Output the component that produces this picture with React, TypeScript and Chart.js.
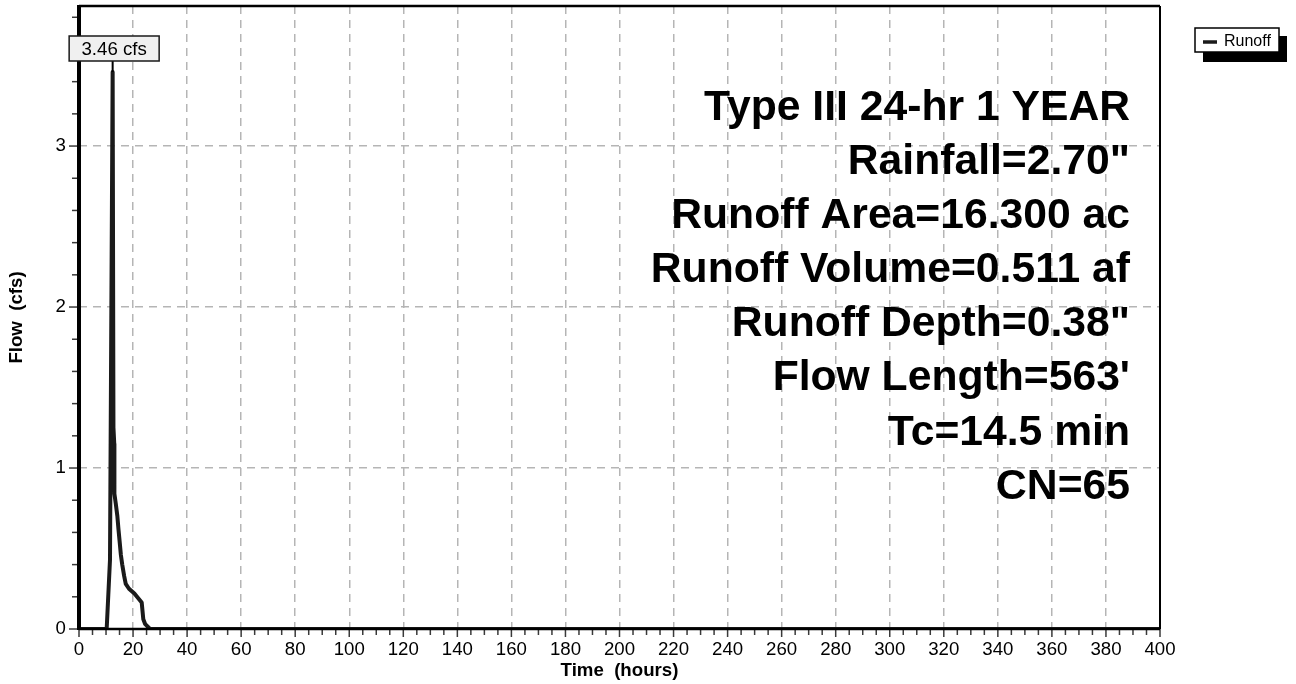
import React, { useEffect, useRef } from 'react';
import { Chart, registerables } from 'chart.js';

Chart.register(...registerables);

// ---- data ----
const timeHours = [0, 10.24, 11.47, 12.45, 12.75, 13.05, 13.1, 13.6, 14.2, 14.6, 15.0, 15.5, 16.0, 16.7, 17.3, 18.5, 20.5, 23.2, 23.8, 24.5, 26.3, 400];
const flowCfs = [0, 0, 0.43, 3.46, 1.25, 1.15, 0.84, 0.78, 0.7, 0.62, 0.55, 0.46, 0.4, 0.33, 0.28, 0.25, 0.22, 0.165, 0.06, 0.03, 0, 0];
const seriesName = 'Runoff';
const peakValue = 3.46;
const peakTime = 12.45;
const peakLabel = '3.46 cfs';
const infoLines = [
  'Type III 24-hr 1 YEAR',
  'Rainfall=2.70"',
  'Runoff Area=16.300 ac',
  'Runoff Volume=0.511 af',
  'Runoff Depth=0.38"',
  "Flow Length=563'",
  'Tc=14.5 min',
  'CN=65',
];
const xTitle = 'Time  (hours)';
const yTitle = 'Flow  (cfs)';
const xMin = 0;
const xMax = 400;
const xMinorStep = 5;
const xMajorStep = 20;
const yMin = 0;
const yMax = 3.87;
const yMinorStep = 0.2;

const FONT = "'Liberation Sans', Arial, Helvetica, sans-serif";
const isMult = (v: number, s: number) => Math.abs(v / s - Math.round(v / s)) < 1e-6;

const overlay = {
  id: 'overlay',
  afterDraw(chart: any) {
    const { ctx, chartArea: a, scales } = chart;
    const xs = scales.x;
    const ys = scales.y;
    ctx.save();

    // tick marks
    ctx.strokeStyle = '#3a3a3a';
    ctx.lineWidth = 1.5;
    ctx.setLineDash([]);
    xs.ticks.forEach((t: any) => {
      const px = xs.getPixelForValue(t.value);
      const len = isMult(t.value, xMajorStep) ? 8 : 6;
      ctx.beginPath();
      ctx.moveTo(px, a.bottom);
      ctx.lineTo(px, a.bottom + len);
      ctx.stroke();
    });
    ys.ticks.forEach((t: any) => {
      const py = ys.getPixelForValue(t.value);
      const len = isMult(t.value, 1) ? 10 : 7;
      ctx.beginPath();
      ctx.moveTo(a.left - len, py);
      ctx.lineTo(a.left, py);
      ctx.stroke();
    });

    // frame
    ctx.strokeStyle = '#000';
    ctx.lineWidth = 2.5;
    ctx.beginPath();
    ctx.moveTo(a.left, a.top);
    ctx.lineTo(a.right, a.top);
    ctx.stroke();
    ctx.lineWidth = 2;
    ctx.beginPath();
    ctx.moveTo(a.right, a.top);
    ctx.lineTo(a.right, a.bottom);
    ctx.stroke();
    ctx.lineWidth = 2.5;
    ctx.beginPath();
    ctx.moveTo(a.left, a.bottom);
    ctx.lineTo(a.right, a.bottom);
    ctx.stroke();
    ctx.lineWidth = 4;
    ctx.beginPath();
    ctx.moveTo(a.left, a.top - 1);
    ctx.lineTo(a.left, a.bottom + 1);
    ctx.stroke();

    // info text
    ctx.fillStyle = '#000';
    ctx.font = `bold 42.67px ${FONT}`;
    ctx.textAlign = 'right';
    ctx.textBaseline = 'middle';
    infoLines.forEach((s, i) => {
      ctx.fillText(s, 1130, 108 + i * 54.14);
    });

    // peak label
    const px = xs.getPixelForValue(peakTime);
    const py = ys.getPixelForValue(peakValue);
    const bw = 90;
    const bh = 25;
    const bx = px + 1.5 - bw / 2;
    const by = 36;
    ctx.strokeStyle = '#000';
    ctx.lineWidth = 2;
    ctx.beginPath();
    ctx.moveTo(px, by + bh);
    ctx.lineTo(px, py);
    ctx.stroke();
    ctx.fillStyle = '#f0f0f0';
    ctx.fillRect(bx, by, bw, bh);
    ctx.strokeStyle = '#1a1a1a';
    ctx.lineWidth = 1.5;
    ctx.strokeRect(bx, by, bw, bh);
    ctx.fillStyle = '#000';
    ctx.font = `18.67px ${FONT}`;
    ctx.textAlign = 'center';
    ctx.textBaseline = 'middle';
    ctx.fillText(peakLabel, bx + bw / 2, by + bh / 2 + 1);

    // legend
    const lx = 1195;
    const ly = 28;
    const lw = 84;
    const lh = 24;
    ctx.fillStyle = '#000';
    ctx.fillRect(lx + 8, ly + 8, lw, lh + 2);
    ctx.fillStyle = '#fff';
    ctx.fillRect(lx, ly, lw, lh);
    ctx.strokeStyle = '#000';
    ctx.lineWidth = 1.5;
    ctx.strokeRect(lx, ly, lw, lh);
    ctx.lineWidth = 3.5;
    ctx.strokeStyle = '#1a1a1a';
    ctx.beginPath();
    ctx.moveTo(lx + 8, ly + 14);
    ctx.lineTo(lx + 22, ly + 14);
    ctx.stroke();
    ctx.fillStyle = '#000';
    ctx.font = `16px ${FONT}`;
    ctx.textAlign = 'left';
    ctx.textBaseline = 'middle';
    ctx.fillText(seriesName, lx + 29, ly + 14);

    // axis titles
    ctx.font = `bold 18.67px ${FONT}`;
    ctx.textAlign = 'center';
    ctx.textBaseline = 'middle';
    ctx.fillText(xTitle, (a.left + a.right) / 2, 671);
    ctx.save();
    ctx.translate(17, (a.top + a.bottom) / 2);
    ctx.rotate(-Math.PI / 2);
    ctx.fillText(yTitle, 0, 0);
    ctx.restore();

    ctx.restore();
  },
};

export default function App() {
  const ref = useRef<HTMLCanvasElement | null>(null);

  useEffect(() => {
    document.body.style.margin = '0';
    const canvas = ref.current;
    if (!canvas) return;
    const points = timeHours.map((t, i) => ({ x: t, y: flowCfs[i] }));
    const gridColor = '#b5b5b5';
    const chart = new Chart(canvas, {
      type: 'line',
      data: {
        datasets: [
          {
            label: seriesName,
            data: points,
            borderColor: '#1a1a1a',
            borderWidth: 4,
            pointRadius: 0,
            tension: 0,
            borderJoinStyle: 'round',
            borderCapStyle: 'round',
            fill: false,
          },
        ],
      },
      options: {
        responsive: false,
        animation: false,
        events: [],
        layout: { padding: { top: 6, right: 136, left: 0, bottom: 0 } },
        plugins: {
          legend: { display: false },
          tooltip: { enabled: false },
          title: { display: false },
        },
        scales: {
          x: {
            type: 'linear',
            min: xMin,
            max: xMax,
            afterFit: (s: any) => {
              s.height = 55;
              s.paddingLeft = 0;
              s.paddingRight = 0;
            },
            ticks: {
              stepSize: xMinorStep,
              autoSkip: false,
              maxRotation: 0,
              includeBounds: false,
              padding: 2,
              color: '#000',
              font: { family: FONT, size: 18.67 },
              callback: (v: any) => (isMult(Number(v), xMajorStep) ? String(Math.round(Number(v))) : ''),
            },
            grid: {
              drawTicks: true,
              tickLength: 8,
              tickColor: 'rgba(0,0,0,0)',
              lineWidth: 1.5,
              color: (c: any) =>
                c.tick && isMult(c.tick.value, xMajorStep) && c.tick.value > xMin && c.tick.value < xMax
                  ? gridColor
                  : 'rgba(0,0,0,0)',
              borderDash: [8, 6],
            } as any,
            border: { display: false, dash: [8, 6] },
          },
          y: {
            type: 'linear',
            min: yMin,
            max: yMax,
            afterFit: (s: any) => {
              s.width = 79;
              s.paddingTop = 0;
              s.paddingBottom = 0;
            },
            ticks: {
              stepSize: yMinorStep,
              autoSkip: false,
              includeBounds: false,
              padding: 3,
              color: '#000',
              font: { family: FONT, size: 18.67 },
              callback: (v: any) => (isMult(Number(v), 1) ? String(Math.round(Number(v))) : ''),
            },
            grid: {
              drawTicks: true,
              tickLength: 10,
              tickColor: 'rgba(0,0,0,0)',
              lineWidth: 1.5,
              color: (c: any) =>
                c.tick && isMult(c.tick.value, 1) && c.tick.value > yMin ? gridColor : 'rgba(0,0,0,0)',
              borderDash: [8, 6],
            } as any,
            border: { display: false, dash: [8, 6] },
          },
        },
      } as any,
      plugins: [overlay],
    });
    return () => chart.destroy();
  }, []);

  return (
    <canvas
      ref={ref}
      width={1296}
      height={684}
      style={{ display: 'block', width: '1296px', height: '684px' }}
    />
  );
}
